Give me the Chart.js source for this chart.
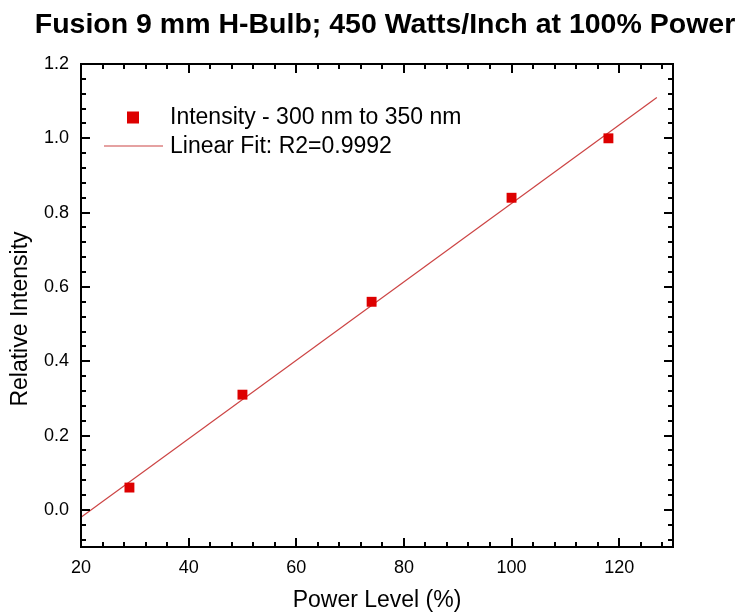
<!DOCTYPE html>
<html>
<head>
<meta charset="utf-8">
<script src="https://cdn.jsdelivr.net/npm/chart.js@4.4.1/dist/chart.umd.min.js"></script>
<style>
  body{margin:0;background:#fff;}
  #wrap{width:742px;height:614px;}
</style>
</head>
<body>
<div id="wrap"><canvas id="c" width="742" height="614"></canvas></div>
<script>
// data
const powerLevel = [29, 50, 74, 100, 118];
const intensity  = [0.06, 0.31, 0.56, 0.84, 1.0];
const fitX = [20, 127];
const fitY = [-0.02, 1.11];
const xTicks = [20, 40, 60, 80, 100, 120];
const yTicks = [0, 0.2, 0.4, 0.6, 0.8, 1.0, 1.2];

const titleText = "Fusion 9 mm H-Bulb; 450 Watts/Inch at 100% Power";
const xTitle = "Power Level (%)";
const yTitle = "Relative Intensity";
const pointLabel = "Intensity - 300 nm to 350 nm";
const fitLabel = "Linear Fit: R2=0.9992";

const FONT = "'Liberation Sans', Arial, sans-serif";
const pointColor = "#dd0000";
const fitColor = "#cc4444";

/* =====================
   frame, ticks, legend, titles
===================== */
const decor = {
  id: "decor",
  afterDraw(chart){
    const ctx = chart.ctx;
    const a = chart.chartArea;
    const xs = chart.scales.x, ys = chart.scales.y;
    ctx.save();
    ctx.strokeStyle = "#000";
    ctx.lineWidth = 2;
    ctx.strokeRect(a.left, a.top, a.right - a.left, a.bottom - a.top);

    // inward ticks on all four sides
    ctx.beginPath();
    for(let v = 20; v <= 128; v += 4){
      const px = Math.round(xs.getPixelForValue(v));
      const len = (v % 20 === 0) ? 9 : 5;
      ctx.moveTo(px, a.bottom); ctx.lineTo(px, a.bottom - len);
      ctx.moveTo(px, a.top);    ctx.lineTo(px, a.top + len);
    }
    for(let i = -2; i <= 30; i++){
      const py = Math.round(ys.getPixelForValue(i * 0.04));
      const len = (i % 5 === 0) ? 9 : 5;
      ctx.moveTo(a.left, py);  ctx.lineTo(a.left + len, py);
      ctx.moveTo(a.right, py); ctx.lineTo(a.right - len, py);
    }
    ctx.stroke();

    // legend
    ctx.fillStyle = pointColor;
    ctx.fillRect(133 - 6, 117.5 - 6, 12, 12);
    ctx.strokeStyle = fitColor;
    ctx.lineWidth = 1.2;
    ctx.beginPath();
    ctx.moveTo(104, 146); ctx.lineTo(163, 146);
    ctx.stroke();

    ctx.fillStyle = "#000";
    ctx.font = "23px " + FONT;
    ctx.textAlign = "left";
    ctx.textBaseline = "middle";
    ctx.fillText(chart.data.datasets[0].label, 170, 118);
    ctx.fillText(chart.data.datasets[1].label, 170, 147);

    // title
    ctx.font = "bold 28.5px " + FONT;
    ctx.textAlign = "center";
    ctx.fillText(titleText, 385, 25);

    // axis titles
    ctx.font = "23px " + FONT;
    ctx.fillText(xTitle, (a.left + a.right) / 2, 601);
    ctx.translate(21, 319);
    ctx.rotate(-Math.PI / 2);
    ctx.fillText(yTitle, 0, 0);
    ctx.restore();
  }
};

new Chart(document.getElementById("c"), {
  type: "scatter",
  data: {
    datasets: [
      {
        label: pointLabel,
        data: powerLevel.map((x, i) => ({x: x, y: intensity[i]})),
        pointStyle: "rect",
        pointRadius: 7,
        backgroundColor: pointColor,
        borderColor: pointColor,
        borderWidth: 0,
        showLine: false,
        order: 1
      },
      {
        label: fitLabel,
        data: fitX.map((x, i) => ({x: x, y: fitY[i]})),
        showLine: true,
        borderColor: fitColor,
        borderWidth: 1.2,
        pointRadius: 0,
        order: 2
      }
    ]
  },
  options: {
    responsive: false,
    devicePixelRatio: 1,
    animation: false,
    layout: {padding: {left: 0, right: 69, top: 64, bottom: 0}},
    plugins: {legend: {display: false}, title: {display: false}, tooltip: {enabled: false}},
    scales: {
      x: {
        type: "linear",
        min: 20, max: 130,
        afterBuildTicks: s => { s.ticks = xTicks.map(v => ({value: v})); },
        afterFit: s => { s.height = 67; },
        grid: {display: false, drawTicks: false},
        border: {display: false},
        ticks: {color: "#000", padding: 10, font: {family: FONT, size: 18}, callback: v => v}
      },
      y: {
        type: "linear",
        min: -0.1, max: 1.2,
        afterBuildTicks: s => { s.ticks = yTicks.map(v => ({value: v})); },
        afterFit: s => { s.width = 81; },
        grid: {display: false, drawTicks: false},
        border: {display: false},
        ticks: {color: "#000", padding: 12, font: {family: FONT, size: 18}, callback: v => v.toFixed(1)}
      }
    }
  },
  plugins: [decor]
});
</script>
</body>
</html>
